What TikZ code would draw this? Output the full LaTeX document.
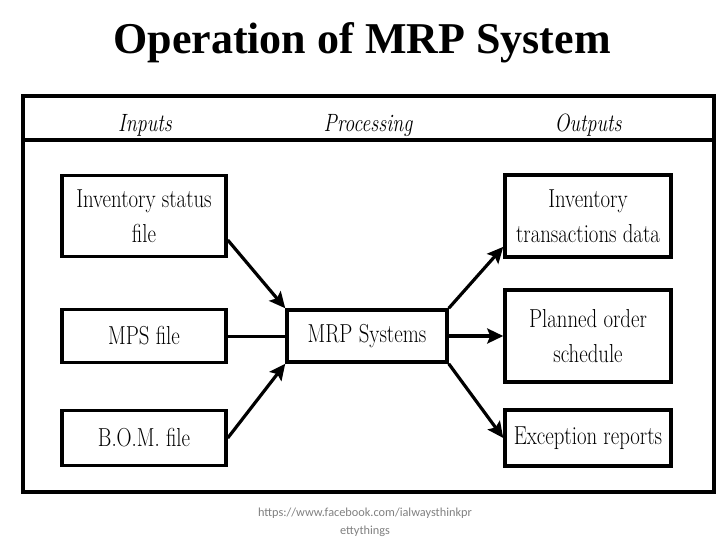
\documentclass[tikz,border=0pt]{standalone}
\usepackage{fontspec}
\usepackage{tikz}
\usetikzlibrary{arrows.meta,positioning,shapes}
\newfontfamily\titlefont{Liberation Serif}
\newfontfamily\boxfont{Latin Modern Roman}[FakeStretch=0.8]
\newfontfamily\notefont{Carlito}

\begin{document}
\begin{tikzpicture}[x=1pt,y=-1pt,
    filebox/.style={draw,line width=3.5pt,inner sep=0pt,align=center,font=\boxfont\fontsize{26}{35}\selectfont},
    head/.style={anchor=base,font=\boxfont\itshape\fontsize{25}{30}\selectfont},
    flow/.style={line width=3.2pt,-{Stealth[length=16pt,width=15pt,inset=3pt]}}]
            \useasboundingbox (0,0) rectangle (728,546);

            \node[font=\titlefont\bfseries\fontsize{44}{50}\selectfont] (title) at (362,43) {Operation of MRP System};

            % frame and heading row
            \draw[line width=4pt] (23,96) rectangle (714,492);
            \draw[line width=4pt] (23,140) -- (714,140);
            \node[head] (inputs) at (145,131) {Inputs};
            \node[head] (processing) at (368,131) {Processing};
            \node[head] (outputs) at (588,131) {Outputs};

            % inputs
            \node[filebox,minimum width=164,minimum height=81] (inv) at (144,216) {Inventory status\\file};
            \node[filebox,minimum width=164,minimum height=53] (mps) at (144,336) {MPS file};
            \node[filebox,minimum width=164,minimum height=55] (bom) at (144,438) {B.O.M. file};

            % processing
            \node[filebox,minimum width=160,minimum height=52] (mrp) at (367,336) {MRP Systems};

            % outputs
            \node[filebox,minimum width=166,minimum height=82] (trans) at (588,216) {Inventory\\transactions data};
            \node[filebox,minimum width=166,minimum height=92] (planned) at (588,336) {Planned order\\schedule};
            \node[filebox,minimum width=166,minimum height=56] (except) at (588,438) {Exception reports};

            \draw[flow] (inv.-16) -- (mrp.north west);
            \draw[line width=3pt] (mps) -- (mrp);
            \draw[flow] (bom.east) -- (mrp.south west);
            \draw[flow] (mrp.north east) -- (trans.200);
            \draw[flow] (mrp) -- (planned);
            \draw[flow] (mrp.south east) -- (except.west);

            \node[font=\notefont\fontsize{12.3}{18}\selectfont,text=black!50,align=center] (note) at (365,522) {https://www.facebook.com/ialwaysthinkpr\\ettythings};
          \end{tikzpicture}
\end{document}
